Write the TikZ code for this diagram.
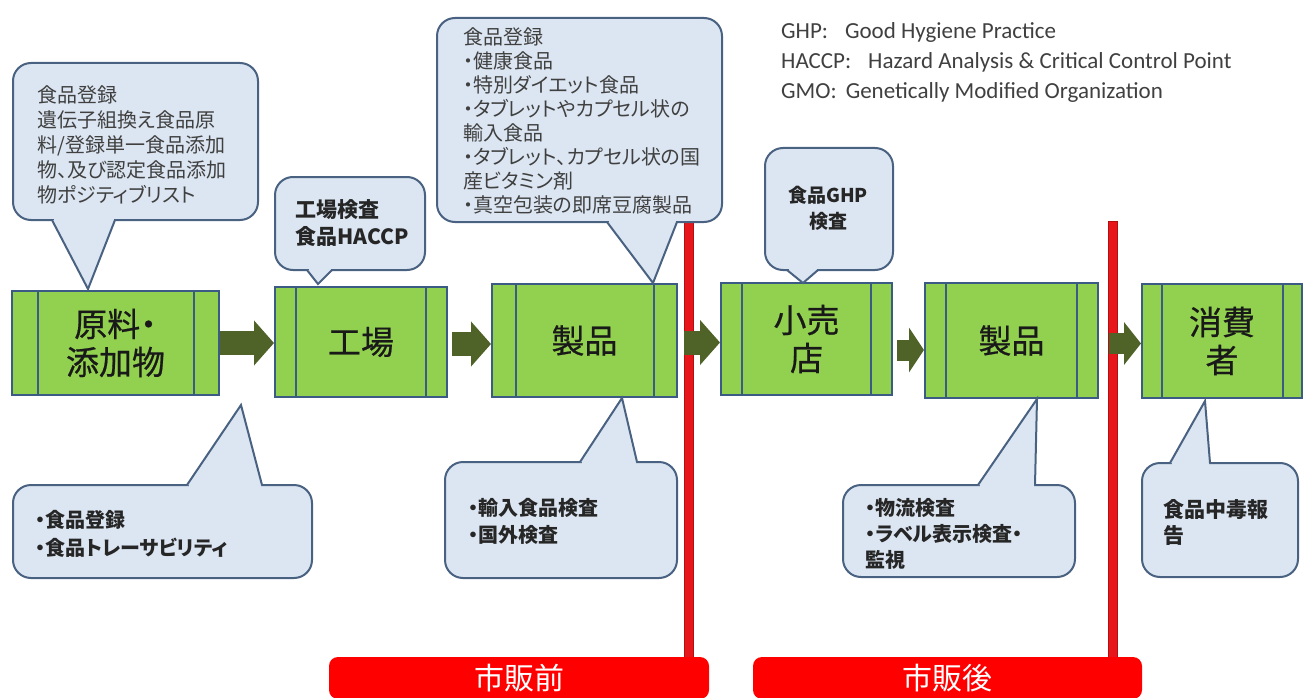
\documentclass[tikz,border=0pt]{standalone}
\usepackage{fontspec}
\setmainfont{Noto Sans CJK JP}[RawFeature=+palt]
\newfontfamily\boxfont{Noto Sans CJK JP}[RawFeature=+palt, FakeBold=0.6]
\newfontfamily\lat{Carlito}
\usetikzlibrary{arrows.meta}
\definecolor{gfill}{HTML}{92D050}
\definecolor{gline}{HTML}{3B5A84}
\definecolor{cfill}{HTML}{DCE6F2}
\definecolor{cline}{HTML}{4A6282}
\definecolor{olive}{HTML}{4F6228}
\definecolor{rline}{HTML}{E8161B}
\definecolor{rdark}{HTML}{B01010}
\definecolor{rlab}{HTML}{FF0000}
\definecolor{txtgray}{HTML}{404040}
\tikzset{
  gbox/.style={draw=gline, fill=gfill, line width=2pt, inner sep=0pt, align=center,
     font=\boxfont\fontsize{33}{38}\selectfont, text=black!90},
  bar/.style={draw=gline, line width=2pt},
  bigarrow/.style={draw=olive, line width=24pt, -{Triangle[length=20pt,width=44pt]}},
  cbody/.style={fill=cfill, draw=cline, line width=2pt, rounded corners=18pt},
  ctail/.style={draw=cline, line width=2pt, line join=miter},
  ctext/.style={inner sep=0pt, align=left, anchor=north west},
  redlabel/.style={fill=rlab, rounded corners=9pt, text=white, inner sep=0pt,
     font=\fontsize{30}{30}\selectfont},
}
% \bubble{x1}{y1}{x2}{y2}{base x left}{base x right}{base y}{tip x}{tip y}
\newcommand{\bubble}[9]{%
  \path[cbody] (#1,#2) rectangle (#3,#4);
  \fill[cfill] (#5,#7) -- (#8,#9) -- (#6,#7) -- cycle;
  \fill[cfill] (#5+1.5,#7-2.2) rectangle (#6-1.5,#7+2.2);
  \draw[ctail] (#5,#7) -- (#8,#9) -- (#6,#7);
}
\newcommand{\bars}[3]{%
  \draw[bar] ([xshift=#2pt]#1.north west) -- ([xshift=#2pt]#1.south west);
  \draw[bar] ([xshift=-#3pt]#1.north east) -- ([xshift=-#3pt]#1.south east);
}
\begin{document}
\begin{tikzpicture}[x=1pt,y=-1pt]
\useasboundingbox (0,0) rectangle (1306,698);
\fill[white] (0,0) rectangle (1306,698);

% legend
\node[inner sep=0pt, anchor=north west, align=left, text=txtgray,
      font=\lat\fontsize{23}{30}\selectfont] (legend) at (781,22)
  {GHP:\hspace{17pt}Good Hygiene Practice\\
   HACCP:\hspace{17pt}Hazard Analysis \& Critical Control Point\\
   GMO:\hspace{9pt}Genetically Modified Organization};

% process boxes
\node[gbox, minimum width=207pt, minimum height=104pt] (raw)  at (115.5,343) {原料・\\添加物};
\node[gbox, minimum width=172pt, minimum height=110pt] (fac)  at (361,342)   {工場};
\node[gbox, minimum width=185pt, minimum height=113pt] (prd)  at (584.5,340.5) {製品};
\node[gbox, minimum width=171pt, minimum height=112pt] (shop) at (806.5,339) {小売\\店};
\node[gbox, minimum width=173pt, minimum height=115pt] (prd2) at (1011.5,340.5) {製品};
\node[gbox, minimum width=160pt, minimum height=114pt] (cons) at (1222,341) {消費\\者};
\bars{raw}{27}{26}
\bars{fac}{22}{22}
\bars{prd}{25}{24}
\bars{shop}{22}{22}
\bars{prd2}{22}{22}
\bars{cons}{21}{20}

% red labels
\node[redlabel, minimum width=380pt, minimum height=42pt] (pre)  at (519,678) {市販前};
\node[redlabel, minimum width=389pt, minimum height=42pt] (post) at (947.5,678) {市販後};

% red divider lines
\coordinate (r1top) at (689,218);
\coordinate (r2top) at (1113,221);
\draw[rdark, line width=10pt] (r1top) -- (r1top |- pre.north);
\draw[rline, line width=8pt] ([yshift=-1pt]r1top) -- (r1top |- pre.north);
\draw[rdark, line width=10pt] (r2top) -- (r2top |- post.north);
\draw[rline, line width=8pt] ([yshift=-1pt]r2top) -- (r2top |- post.north);

% callouts (top)
\bubble{13}{63}{258}{220}{52}{115}{220}{88}{289}
\node[ctext, text=txtgray, font=\fontsize{20}{25}\selectfont] (c1) at (37,85)
  {食品登録\\遺伝子組換え食品原\\料/登録単一食品添加\\物、及び認定食品添加\\物ポジティブリスト};

\bubble{275}{177}{425}{270}{307}{332}{270}{318}{284}
\node[ctext, font=\bfseries\fontsize{21}{27}\selectfont, text=black!85] (c2) at (295,199.5)
  {工場検査\\食品HACCP};

\bubble{437}{18}{722}{222}{607}{677}{222}{653}{283}
\node[ctext, text=txtgray, font=\fontsize{20}{24}\selectfont] (c3) at (463,27)
  {食品登録\\・健康食品\\・特別ダイエット食品\\・タブレットやカプセル状の\\輸入食品\\・タブレット、カプセル状の国\\産ビタミン剤\\・真空包装の即席豆腐製品};

\bubble{765}{148}{893}{270}{787}{818}{270}{803}{283}
\node[inner sep=0pt, align=center, anchor=north, font=\bfseries\fontsize{19}{26}\selectfont, text=black!85] (c4) at (828,185.5)
  {食品GHP\\検査};

% callouts (bottom)
\bubble{13}{485}{312}{578}{187}{262}{485}{241}{405}
\node[ctext, font=\bfseries\fontsize{20}{28}\selectfont, text=black!85] (c5) at (35,510)
  {・食品登録\\・食品トレーサビリティ};

\bubble{445}{462}{677}{578}{580}{637}{462}{622}{398}
\node[ctext, font=\bfseries\fontsize{20}{27}\selectfont, text=black!85] (c6) at (468,498)
  {・輸入食品検査\\・国外検査};

\bubble{843}{485}{1075}{577}{978}{1035}{485}{1037}{399}
\node[ctext, font=\bfseries\fontsize{20}{26}\selectfont, text=black!85] (c7) at (865,498)
  {・物流検査\\・ラベル表示検査・\\監視};

\bubble{1142}{463}{1298}{577}{1170}{1210}{463}{1205}{401}
\node[ctext, font=\bfseries\fontsize{21}{26}\selectfont, text=black!85] (c8) at (1163,499.5)
  {食品中毒報\\告};

% flow arrows
\draw[bigarrow] (raw.east) -- (raw.east -| fac.west);
\draw[bigarrow, shorten <=4pt] ([yshift=-2pt]fac.east) -- ([yshift=-2pt]fac.east -| prd.west);
\draw[bigarrow, shorten <=6pt] ([yshift=-2pt]prd.east) -- ([yshift=-2pt]prd.east -| shop.west);
\draw[bigarrow, line width=21pt, -{Triangle[length=15pt,width=44pt]}, shorten <=4pt]
   ([yshift=-11pt]shop.east) -- ([yshift=-11pt]shop.east -| prd2.west);
\draw[bigarrow, line width=21pt, -{Triangle[length=17pt,width=42pt]}, shorten <=10pt]
   ([yshift=-3pt]prd2.east) -- ([yshift=-3pt]prd2.east -| cons.west);
\end{tikzpicture}
\end{document}
